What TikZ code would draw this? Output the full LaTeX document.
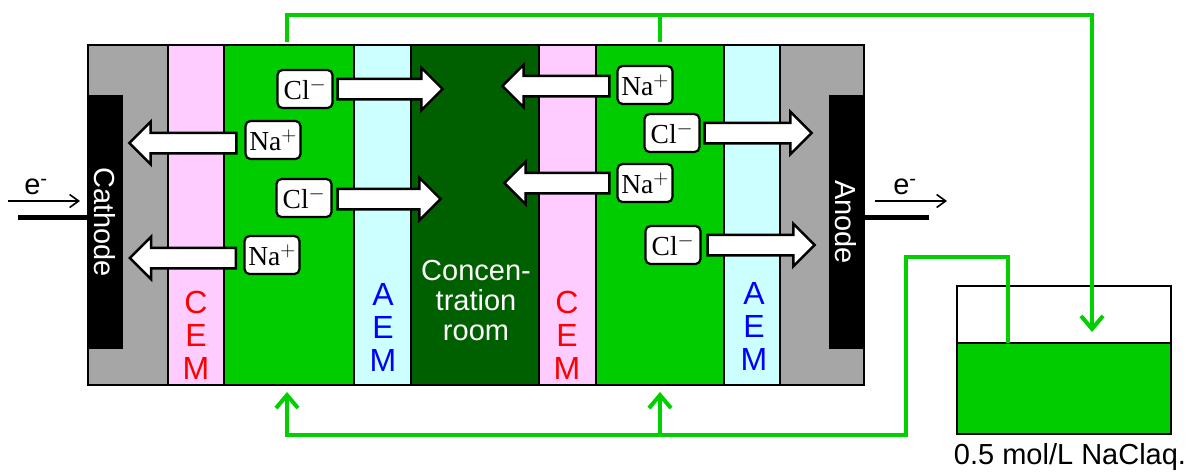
\documentclass[tikz,border=0pt]{standalone}
\usepackage{fontspec}
\setmainfont{Liberation Sans}
\newfontfamily\ionfont{Liberation Serif}
\usetikzlibrary{arrows.meta,shapes.arrows}
\definecolor{bath}{RGB}{0,204,0}
\definecolor{pipe}{RGB}{0,208,0}
\definecolor{conc}{RGB}{0,96,0}
\definecolor{cem}{RGB}{255,204,255}
\definecolor{aem}{RGB}{204,255,255}
\definecolor{case}{RGB}{166,166,166}
\tikzset{
	part/.style={draw=black,line width=2.5pt},
	ion/.style={draw=black,fill=white,line width=2.2pt,rounded corners=5pt,minimum width=55pt,minimum height=38pt,inner sep=0pt,font=\ionfont\fontsize{27.5}{27.5}\selectfont},
	flow/.style={single arrow,draw=black,fill=white,line width=2.5pt,inner sep=9pt,minimum width=40pt,single arrow head extend=11pt,single arrow tip angle=90,single arrow head indent=0pt},
	pipeline/.style={draw=pipe,line width=4pt},
	pipehead/.style={pipeline,-{Straight Barb[length=13pt,width=22pt,line width=4pt]}},
	word/.style={font=\fontsize{29}{30}\selectfont,inner sep=0pt},
	memb/.style={font=\fontsize{32}{33}\selectfont,align=center,inner sep=0pt},
	wire/.style={line width=5pt},
	flux/.style={line width=1.6pt,-{Straight Barb[length=9pt,width=13pt,line width=1.6pt]}}
}
\begin{document}
\begin{tikzpicture}[x=1pt,y=-1pt]
	\useasboundingbox (0,0) rectangle (1188,472);
	% cell
	\draw[part,fill=case] (88,45) rectangle (864,385);
	\draw[part,fill=cem] (168,45) rectangle (224,385);
	\draw[part,fill=bath] (224,45) rectangle (354,385);
	\draw[part,fill=aem] (354,45) rectangle (411,385);
	\draw[part,fill=conc] (411,45) rectangle (539,385);
	\draw[part,fill=cem] (539,45) rectangle (596,385);
	\draw[part,fill=bath] (596,45) rectangle (724,385);
	\draw[part,fill=aem] (724,45) rectangle (780,385);
	\fill[black] (88,95) rectangle (123,349);
	\fill[black] (829,95) rectangle (864,349);
	\node[word,text=white,rotate=-90] (cathode) at (105,222) {Cathode};
	\node[word,text=white,rotate=-90] (anode) at (846,222) {Anode};
	\node[memb,text=red] (cemA) at (196,335) {C\\E\\M};
	\node[memb,text=blue] (aemA) at (383,327) {A\\E\\M};
	\node[memb,text=red] (cemB) at (567,335) {C\\E\\M};
	\node[memb,text=blue] (aemB) at (754,326) {A\\E\\M};
	\node[word,text=white,align=center] (room) at (476,301) {Concen-\\tration\\room};
	% ions
	\foreach \name/\x/\y/\txt in {clA/305/89/Cl$^{-}$,naA/273/140/Na$^{+}$,clB/304/198/Cl$^{-}$,naB/272/255/Na$^{+}$,naC/645/85/Na$^{+}$,clC/672/133/Cl$^{-}$,naD/645/183/Na$^{+}$,clD/673/245/Cl$^{-}$}
		\node[ion] (\name) at (\x,\y) {\txt};
	% ion flows
	\foreach \name/\x/\y/\len/\ang in {flowA/385/89/105/0,flowB/188/143/107/180,flowC/384/199/103/0,flowD/188/258/106/180,flowE/561/86/107/180,flowF/753/133/107/0,flowG/562/183/105/180,flowH/756/245/107/0}
		\node[flow,minimum height=\len pt,rotate=\ang] (\name) at (\x,\y) {};
	% electrons
	\coordinate (wireA) at (18,217);
	\coordinate (wireB) at (88,217);
	\coordinate (wireC) at (864,217);
	\coordinate (wireD) at (929,217);
	\draw[wire] (wireA) -- (wireB);
	\draw[wire] (wireC) -- (wireD);
	\coordinate (fluxA) at (8,201);
	\coordinate (fluxB) at (80,201);
	\coordinate (fluxC) at (875,201);
	\coordinate (fluxD) at (947,201);
	\draw[flux] (fluxA) -- (fluxB);
	\draw[flux] (fluxC) -- (fluxD);
	\node[word] (eA) at (36,187) {e\textsuperscript{-}};
	\node[word] (eB) at (905,187) {e\textsuperscript{-}};
	% tank
	\draw[part,fill=white] (957,286) rectangle (1171,434);
	\draw[part,fill=bath] (957,343) rectangle (1171,434);
	\node[font=\fontsize{29}{29}\selectfont,inner sep=0pt] (tank) at (1070,457) {0.5 mol/L NaClaq.};
	% pipes
	\coordinate (outA) at (287,42);
	\coordinate (outB) at (660,42);
	\coordinate (topA) at (287,15);
	\coordinate (topB) at (660,15);
	\coordinate (topC) at (1092,15);
	\coordinate (drop) at (1092,332);
	\coordinate (suck) at (1008,343);
	\coordinate (overA) at (1008,257);
	\coordinate (overB) at (906,257);
	\coordinate (lowC) at (906,435);
	\coordinate (lowB) at (660,435);
	\coordinate (lowA) at (287,435);
	\coordinate (inA) at (287,392);
	\coordinate (inB) at (660,392);
	\draw[pipehead,line join=miter] (outA) -- (topA) -- (topC) -- (drop);
	\draw[pipeline] (outB) -- (topB);
	\draw[pipehead,line join=miter] (suck) -- (overA) -- (overB) -- (lowC) -- (lowA) -- (inA);
	\draw[pipehead] (lowB) -- (inB);
\end{tikzpicture}
\end{document}
